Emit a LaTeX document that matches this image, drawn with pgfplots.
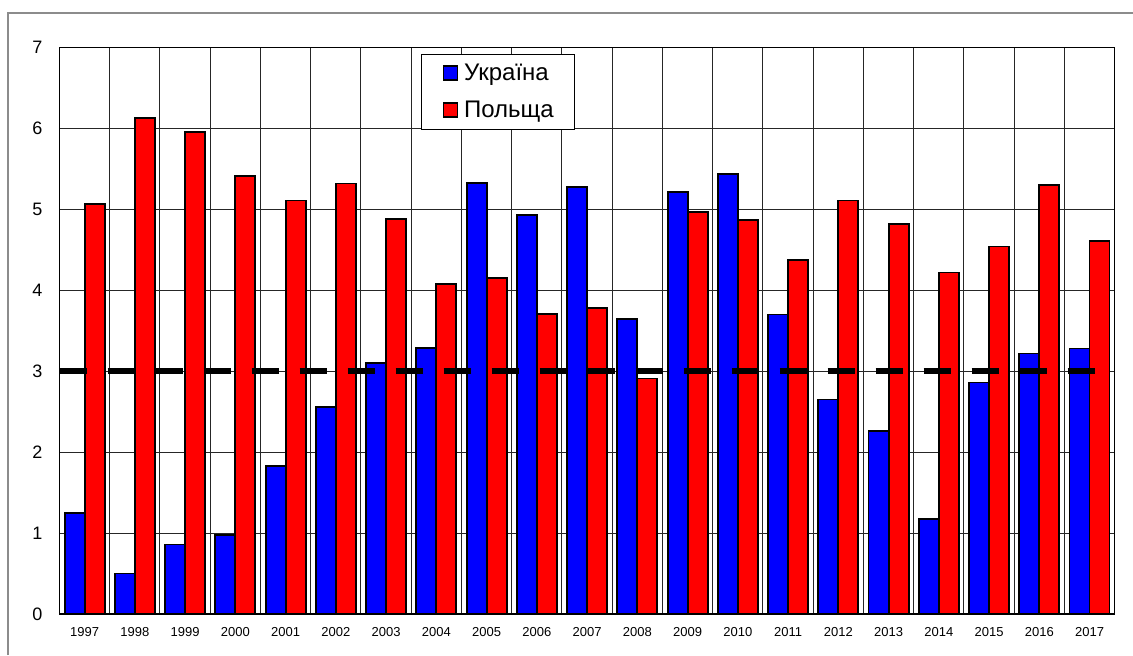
\documentclass[border=0pt]{standalone}
\usepackage{pgfplots}
\pgfplotsset{compat=1.18}
\usepackage{fontspec}
\setmainfont{Liberation Sans}

\begin{document}
\begin{tikzpicture}[x=1pt,y=1pt]
\path[use as bounding box] (0,0) rectangle (566.5,327.5);
\draw[gray!90, line width=1pt] (4,0) -- (4,321) -- (566.5,321);
\begin{axis}[
  at={(29.75pt,20.5pt)}, anchor=south west,
  scale only axis, width=527.6pt, height=283.25pt,
  ybar=0pt, bar width=10pt,
  xmin=-0.5, xmax=20.5, ymin=0, ymax=7,
  xtick={0,...,20},
  xticklabels={1997,1998,1999,2000,2001,2002,2003,2004,2005,2006,2007,2008,2009,2010,2011,2012,2013,2014,2015,2016,2017},
  minor xtick={-0.5,0.5,...,20.5},
  ytick={0,...,7},
  xminorgrids, ymajorgrids,
  major tick length=0pt, minor tick length=0pt,
  grid style={black!85, line width=0.5pt},
  minor grid style={black!85, line width=0.5pt},
  axis line style={black, line width=0.6pt},
  /pgf/number format/assume math mode=true,
  yticklabel style={font=\fontsize{9}{10}\selectfont, xshift=-5pt},
  xticklabel style={font=\fontsize{6.5}{7}\selectfont, yshift=-3.3pt},
  legend style={at={(0.3426,0.9885)}, anchor=north west, draw=black, line width=0.5pt,
    fill=white, font=\fontsize{12}{14}\selectfont,
    inner xsep=10.5pt, inner ysep=3.75pt, row sep=7pt, column sep=3pt,
    nodes={inner sep=0pt, text height=9pt, text depth=2.5pt},
    cells={anchor=west}},
  legend image code/.code={\draw[#1, line width=0.8pt] (0pt,-3.1pt) rectangle (7pt,3.9pt);},
]
\addplot[fill=blue, draw=black, line width=0.9pt] coordinates {
(0,1.25) (1,0.50) (2,0.86) (3,0.98) (4,1.83) (5,2.56) (6,3.10) (7,3.29) (8,5.33) (9,4.93)
(10,5.28) (11,3.65) (12,5.21) (13,5.44) (14,3.70) (15,2.65) (16,2.26) (17,1.17) (18,2.86) (19,3.22) (20,3.28)};
\addlegendentry{Україна}
\addplot[fill=red, draw=black, line width=0.9pt] coordinates {
(0,5.07) (1,6.13) (2,5.96) (3,5.41) (4,5.11) (5,5.32) (6,4.88) (7,4.08) (8,4.15) (9,3.71)
(10,3.78) (11,2.91) (12,4.97) (13,4.87) (14,4.37) (15,5.11) (16,4.82) (17,4.22) (18,4.54) (19,5.30) (20,4.61)};
\addlegendentry{Польща}
\addplot[sharp plot, forget plot, black, line width=3pt, dash pattern=on 13.5pt off 10.5pt] coordinates {(-0.5,3) (20.5,3)};
\end{axis}
\end{tikzpicture}
\end{document}
